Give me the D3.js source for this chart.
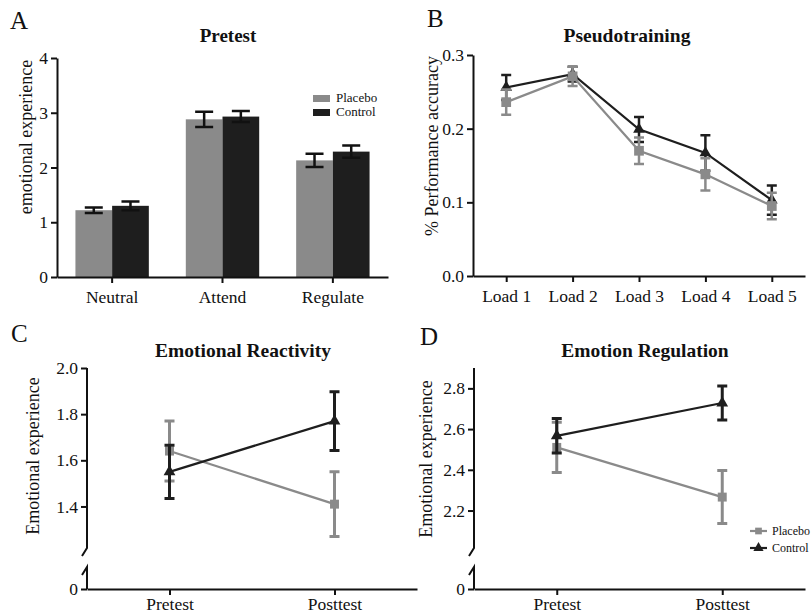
<!DOCTYPE html>
<html>
<head>
<meta charset="utf-8">
<script src="https://cdn.jsdelivr.net/npm/d3@7"></script>
<style>
  body { margin: 0; background: #fff; }
  svg text { font-family: "Liberation Serif", "DejaVu Serif", serif; fill: #111; }
</style>
</head>
<body>
<script>
// panel A - pretest bars
var barGroups = ["Neutral", "Attend", "Regulate"];
var barPlacebo = [1.22, 2.88, 2.13];
var barPlaceboErr = [0.05, 0.14, 0.12];
var barControl = [1.30, 2.93, 2.29];
var barControlErr = [0.08, 0.10, 0.11];
var barTicks = [0, 1, 2, 3, 4];

// panel B - pseudotraining
var loads = ["Load 1", "Load 2", "Load 3", "Load 4", "Load 5"];
var loadPlacebo = [0.236, 0.271, 0.170, 0.138, 0.095];
var loadPlaceboErr = [0.017, 0.013, 0.018, 0.022, 0.018];
var loadControl = [0.256, 0.274, 0.199, 0.167, 0.103];
var loadControlErr = [0.017, 0.010, 0.017, 0.024, 0.020];
var loadTicks = [0, 0.1, 0.2, 0.3];

// panels C and D - pre / post
var sessions = ["Pretest", "Posttest"];
var reactPlacebo = [1.64, 1.41];
var reactPlaceboErr = [0.13, 0.14];
var reactControl = [1.55, 1.77];
var reactControlErr = [0.115, 0.127];
var reactTicks = [1.4, 1.6, 1.8, 2.0];

var regPlacebo = [2.51, 2.266];
var regPlaceboErr = [0.123, 0.13];
var regControl = [2.567, 2.728];
var regControlErr = [0.085, 0.083];
var regTicks = [2.2, 2.4, 2.6, 2.8];

var GRAY = "#8a8a8a", DARK = "#1e1e1e";
var FONT = "'Liberation Serif', 'DejaVu Serif', serif";

var svg = d3.select("body").append("svg").attr("width", 812).attr("height", 615)
  .attr("font-family", FONT);

function styleAxis(g) {
  g.attr("font-family", FONT);
  g.selectAll("path, line").attr("stroke", "#111").attr("stroke-width", 2);
  g.selectAll("text").attr("font-size", 17.5).attr("fill", "#111");
}

function label(txt, x, y, size, bold, anchor) {
  return svg.append("text").attr("x", x).attr("y", y)
    .attr("font-size", size).attr("font-weight", bold ? "bold" : "normal")
    .attr("text-anchor", anchor || "middle").text(txt);
}

function yLabel(txt, x, y) {
  svg.append("text").attr("transform", "translate(" + x + "," + y + ") rotate(-90)")
    .attr("text-anchor", "middle").attr("font-size", 18).text(txt);
}

function errBars(g, xs, vals, errs, y, color, cap, sw) {
  vals.forEach(function(v, i) {
    var x = xs[i], t = y(v + errs[i]), b = y(v - errs[i]);
    var p = "M" + (x - cap / 2) + "," + t + "H" + (x + cap / 2) + "M" + x + "," + t + "V" + b +
            "M" + (x - cap / 2) + "," + b + "H" + (x + cap / 2);
    g.append("path").attr("d", p).attr("stroke", color).attr("stroke-width", sw).attr("fill", "none");
  });
}

function series(g, xs, vals, errs, y, color, shape, size, cap, sw) {
  errBars(g, xs, vals, errs, y, color, cap, sw);
  g.append("path")
    .datum(vals)
    .attr("d", d3.line().x(function(d, i) { return xs[i]; }).y(function(d) { return y(d); }))
    .attr("fill", "none").attr("stroke", color).attr("stroke-width", 2.2);
  g.selectAll(null).data(vals).join("path")
    .attr("transform", function(d, i) { return "translate(" + xs[i] + "," + y(d) + ")"; })
    .attr("d", d3.symbol().type(shape).size(size))
    .attr("fill", color);
}

// ---------- A ----------
(function() {
  var x = d3.scaleBand().domain(barGroups).range([57, 388]).paddingInner(0.335).paddingOuter(0.167);
  var inner = d3.scaleBand().domain(["Placebo", "Control"]).range([0, x.bandwidth()]);
  var y = d3.scaleLinear().domain([0, 4]).range([277, 58]);
  var g = svg.append("g");

  var rows = barGroups.map(function(c, i) {
    return [{ k: "Placebo", c: c, v: barPlacebo[i], e: barPlaceboErr[i] },
            { k: "Control", c: c, v: barControl[i], e: barControlErr[i] }];
  });
  var flat = [].concat.apply([], rows);
  g.selectAll("rect.bar").data(flat).join("rect")
    .attr("x", function(d) { return x(d.c) + inner(d.k); })
    .attr("y", function(d) { return y(d.v); })
    .attr("width", inner.bandwidth())
    .attr("height", function(d) { return y(0) - y(d.v); })
    .attr("fill", function(d) { return d.k === "Placebo" ? GRAY : DARK; });

  var cx = flat.map(function(d) { return x(d.c) + inner(d.k) + inner.bandwidth() / 2; });
  errBars(g, cx, flat.map(function(d) { return d.v; }), flat.map(function(d) { return d.e; }), y, "#111", 18, 2.5);

  svg.append("g").attr("transform", "translate(57,0)")
    .call(d3.axisLeft(y).tickValues(barTicks).tickFormat(d3.format("d")).tickSize(6).tickSizeOuter(0))
    .call(styleAxis);
  svg.append("g").attr("transform", "translate(0,277)")
    .call(d3.axisBottom(x).tickSize(6).tickSizeOuter(0).tickPadding(8))
    .call(styleAxis);

  label("A", 10, 29, 25, false, "start");
  label("Pretest", 228, 42, 19, true);
  yLabel("emotional experience", 32, 137);

  var lg = svg.append("g");
  ["Placebo", "Control"].forEach(function(k, i) {
    lg.append("rect").attr("x", 313).attr("y", 95 + i * 14).attr("width", 17).attr("height", 7)
      .attr("fill", i ? DARK : GRAY);
    lg.append("text").attr("x", 336).attr("y", 102 + i * 14).attr("font-size", 13).text(k);
  });
})();

// ---------- B ----------
(function() {
  var x = d3.scalePoint().domain(loads).range([473, 805]).padding(0.5);
  var y = d3.scaleLinear().domain([0, 0.3]).range([276, 55]);
  var xs = loads.map(function(d) { return x(d); });
  var g = svg.append("g");

  series(g, xs, loadControl, loadControlErr, y, DARK, d3.symbolTriangle, 60, 10, 2.5);
  series(g, xs, loadPlacebo, loadPlaceboErr, y, GRAY, d3.symbolSquare, 95, 10, 2.5);

  svg.append("g").attr("transform", "translate(473,0)")
    .call(d3.axisLeft(y).tickValues(loadTicks).tickFormat(d3.format(".1f")).tickSize(6).tickSizeOuter(0))
    .call(styleAxis);
  svg.append("g").attr("transform", "translate(0,276)")
    .call(d3.axisBottom(x).tickSize(6).tickSizeOuter(0).tickPadding(8))
    .call(styleAxis);

  label("B", 427, 27, 25, false, "start");
  label("Pseudotraining", 627, 42, 19.5, true);
  yLabel("% Performance accuracy", 438, 146);
})();

// ---------- C and D (broken y axis) ----------
function brokenPanel(opt) {
  var x = d3.scalePoint().domain(sessions).range([opt.x0, opt.x1]).padding(0.5);
  var y = d3.scaleLinear().domain([opt.lo, opt.hi]).range([548, 368]);
  var y0 = d3.scaleLinear().domain([0, 1]).range([589, 540]);
  var xs = sessions.map(function(d) { return x(d); });
  var g = svg.append("g");

  series(g, xs, opt.placebo, opt.placeboErr, y, GRAY, d3.symbolSquare, 80, 10, 3);
  series(g, xs, opt.control, opt.controlErr, y, DARK, d3.symbolTriangle, 60, 10, 3);

  var ax = svg.append("g").attr("transform", "translate(" + opt.x0 + ",0)")
    .call(d3.axisLeft(y).tickValues(opt.ticks).tickFormat(d3.format(".1f")).tickSize(6))
    .call(styleAxis);
  ax.select(".domain").remove();
  var ax0 = svg.append("g").attr("transform", "translate(" + opt.x0 + ",0)")
    .call(d3.axisLeft(y0).tickValues([0]).tickFormat(d3.format("d")).tickSize(6))
    .call(styleAxis);
  ax0.select(".domain").remove();

  // broken y axis line
  var x0 = opt.x0;
  svg.append("path")
    .attr("d", "M" + x0 + ",368V548L" + (x0 - 5) + ",556")
    .attr("fill", "none").attr("stroke", "#111").attr("stroke-width", 2);
  svg.append("path")
    .attr("d", "M" + (x0 - 5) + ",575L" + x0 + ",567V589")
    .attr("fill", "none").attr("stroke", "#111").attr("stroke-width", 2);

  svg.append("g").attr("transform", "translate(0,589)")
    .call(d3.axisBottom(x).tickSize(6).tickSizeOuter(0).tickPadding(3))
    .call(styleAxis);

  label(opt.letter, opt.lx, opt.ly, 25, false, "start");
  label(opt.title, opt.tx, 357, 19.5, true);
  yLabel("Emotional experience", opt.yx, opt.yy);
}

brokenPanel({
  x0: 87, x1: 417, lo: 1.22, hi: 2.0, ticks: reactTicks,
  placebo: reactPlacebo, placeboErr: reactPlaceboErr,
  control: reactControl, controlErr: reactControlErr,
  letter: "C", lx: 11, ly: 342, title: "Emotional Reactivity", tx: 243, yx: 39, yy: 456
});

brokenPanel({
  x0: 474, x1: 805, lo: 2.016, hi: 2.9, ticks: regTicks,
  placebo: regPlacebo, placeboErr: regPlaceboErr,
  control: regControl, controlErr: regControlErr,
  letter: "D", lx: 420, ly: 345, title: "Emotion Regulation", tx: 645, yx: 432, yy: 459
});

// legend D
var lgd = svg.append("g");
[["Placebo", GRAY, d3.symbolSquare, 45], ["Control", DARK, d3.symbolTriangle, 45]].forEach(function(s, i) {
  var yy = 531 + i * 17;
  lgd.append("line").attr("x1", 750).attr("x2", 767).attr("y1", yy).attr("y2", yy)
    .attr("stroke", s[1]).attr("stroke-width", 2.2);
  lgd.append("path").attr("transform", "translate(758.5," + yy + ")")
    .attr("d", d3.symbol().type(s[2]).size(s[3])).attr("fill", s[1]);
  lgd.append("text").attr("x", 772).attr("y", yy + 4).attr("font-size", 12).text(s[0]);
});
</script>
</body>
</html>
